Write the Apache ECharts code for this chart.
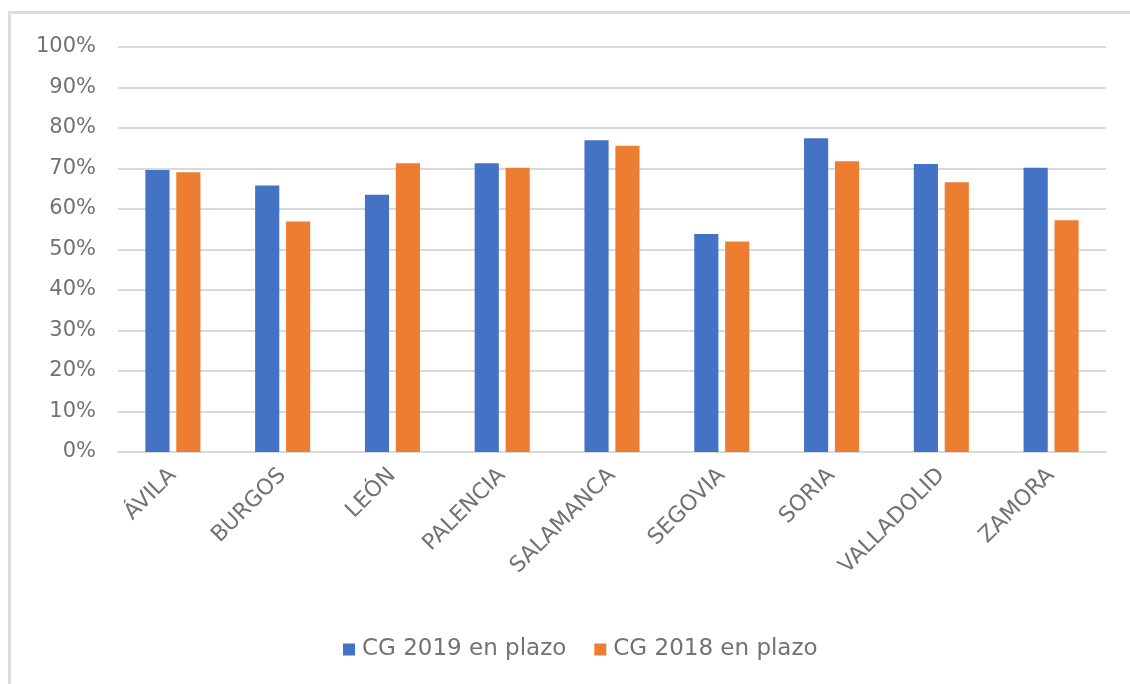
<!DOCTYPE html>
<html>
<head>
<meta charset="utf-8">
<script src="https://cdn.jsdelivr.net/npm/echarts@6/dist/echarts.min.js"></script>
<style>
  html, body { margin: 0; padding: 0; background: #fff; overflow: hidden; }
  #frame {
    position: absolute; left: 8px; top: 11px; width: 1140px; height: 700px;
    border: 3px solid #dedede; box-sizing: border-box;
  }
  #chart { position: absolute; left: 0; top: 0; width: 1130px; height: 684px; }
</style>
</head>
<body>
<div id="frame"></div>
<div id="chart"></div>
<script>
const provincias = ['ÁVILA', 'BURGOS', 'LEÓN', 'PALENCIA', 'SALAMANCA', 'SEGOVIA', 'SORIA', 'VALLADOLID', 'ZAMORA']
const seriesNames = ['CG 2019 en plazo', 'CG 2018 en plazo']
const cg2019 = [69.6, 65.8, 63.5, 71.3, 77.0, 53.8, 77.5, 71.1, 70.2]
const cg2018 = [69.1, 56.9, 71.3, 70.2, 75.6, 52.0, 71.8, 66.6, 57.2]

const textColor = '#727272'
const gridColor = '#d9d9d9'
const font = '"DejaVu Sans", sans-serif'

const myChart = echarts.init(document.getElementById('chart'))

myChart.setOption({
  animation: false,
  textStyle: { fontFamily: font },
  grid: {
    left: 118,
    right: 24,
    top: 47,
    bottom: 232
  },
  legend: {
    left: 338,
    top: 633,
    itemWidth: 12,
    itemHeight: 12,
    itemGap: 28,
    icon: 'rect',
    textStyle: { color: textColor, fontSize: 23, fontFamily: font, padding: [0, 0, 0, 2] },
    data: seriesNames
  },
  xAxis: {
    type: 'category',
    data: provincias,
    axisLine: { lineStyle: { color: gridColor, width: 2 } },
    axisTick: { show: false },
    axisLabel: {
      rotate: 45,
      margin: 20,
      color: textColor,
      fontSize: 22,
      fontFamily: font
    }
  },
  yAxis: {
    type: 'value',
    min: 0,
    max: 100,
    interval: 10,
    axisLine: { show: false },
    axisTick: { show: false },
    splitLine: { lineStyle: { color: gridColor, width: 2 } },
    axisLabel: {
      margin: 22,
      color: textColor,
      fontSize: 21,
      fontFamily: font,
      formatter: '{value}%'
    }
  },
  series: [
    {
      name: seriesNames[0],
      type: 'bar',
      data: cg2019,
      barWidth: '22%',
      barGap: '28%',
      itemStyle: { color: '#4472C4' }
    },
    {
      name: seriesNames[1],
      type: 'bar',
      data: cg2018,
      barWidth: '22%',
      barGap: '28%',
      itemStyle: { color: '#ED7D31' }
    }
  ]
})
</script>
</body>
</html>
